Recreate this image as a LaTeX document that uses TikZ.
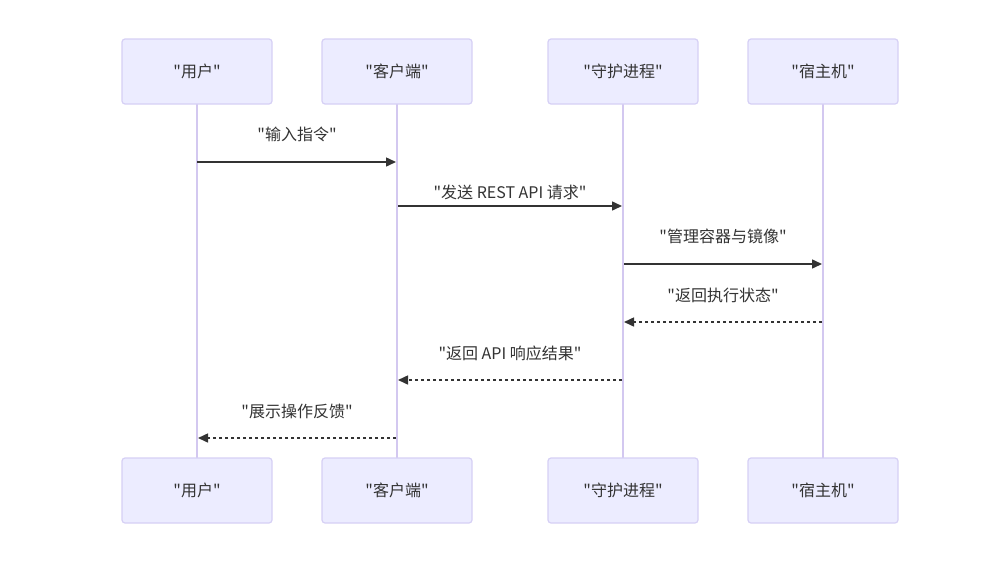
\documentclass[tikz,border=0pt]{standalone}
\usepackage{fontspec}
\setmainfont{Noto Sans CJK SC}[Ligatures=TeXOff]
\usetikzlibrary{arrows.meta}
\definecolor{actfill}{HTML}{ECECFF}
\definecolor{actdraw}{HTML}{D6D0F5}
\definecolor{lifeln}{HTML}{D3C8F0}
\definecolor{txt}{HTML}{333333}
\tikzset{
  actor/.style={draw=actdraw, line width=1.2pt, fill=actfill, rounded corners=3pt,
    minimum width=150pt, minimum height=65pt, text=txt, font=\fontsize{16}{19}\selectfont, inner sep=0pt},
  life/.style={draw=lifeln, line width=1.5pt},
  msg/.style={draw=txt, line width=1.5pt, -{Triangle[length=10pt,width=9pt]}},
  reply/.style={msg, dash pattern=on 3pt off 3pt},
  lbl/.style={text=txt, font=\fontsize{16}{19}\selectfont, inner sep=0pt}
}
\begin{document}
\begin{tikzpicture}[x=1pt,y=-1pt]
\useasboundingbox[fill=white] (0,0) rectangle (995,565);
% lifelines
\foreach \n/\x in {u/197,c/397,d/623,h/823}{
  \coordinate (\n top) at (\x,104);
  \coordinate (\n bot) at (\x,458);
  \draw[life] (\n top) -- (\n bot);
}
\node[actor] (u1) at (197,71.5) {"用户"};
\node[actor] (c1) at (397,71.5) {"客户端"};
\node[actor] (d1) at (623,71.5) {"守护进程"};
\node[actor] (h1) at (823,71.5) {"宿主机"};
\node[actor] (u2) at (197,490.5) {"用户"};
\node[actor] (c2) at (397,490.5) {"客户端"};
\node[actor] (d2) at (623,490.5) {"守护进程"};
\node[actor] (h2) at (823,490.5) {"宿主机"};
% message coordinates
\coordinate (m1a) at (197,162); \coordinate (m1b) at (396,162);
\coordinate (m2a) at (398,206); \coordinate (m2b) at (622,206);
\coordinate (m3a) at (624,264); \coordinate (m3b) at (822,264);
\coordinate (m4a) at (822,322); \coordinate (m4b) at (624,322);
\coordinate (m5a) at (622,380); \coordinate (m5b) at (398,380);
\coordinate (m6a) at (396,438); \coordinate (m6b) at (198,438);
\draw[msg] (m1a) -- (m1b);
\draw[msg] (m2a) -- (m2b);
\draw[msg] (m3a) -- (m3b);
\draw[reply] (m4a) -- (m4b);
\draw[reply] (m5a) -- (m5b);
\draw[reply] (m6a) -- (m6b);
\node[lbl] (l1) at (297,134) {"输入指令"};
\node[lbl] (l2) at (510,192) {"发送 REST API 请求"};
\node[lbl] (l3) at (723,236) {"管理容器与镜像"};
\node[lbl] (l4) at (723,295) {"返回执行状态"};
\node[lbl] (l5) at (510,353) {"返回 API 响应结果"};
\node[lbl] (l6) at (297,411) {"展示操作反馈"};
\end{tikzpicture}
\end{document}
